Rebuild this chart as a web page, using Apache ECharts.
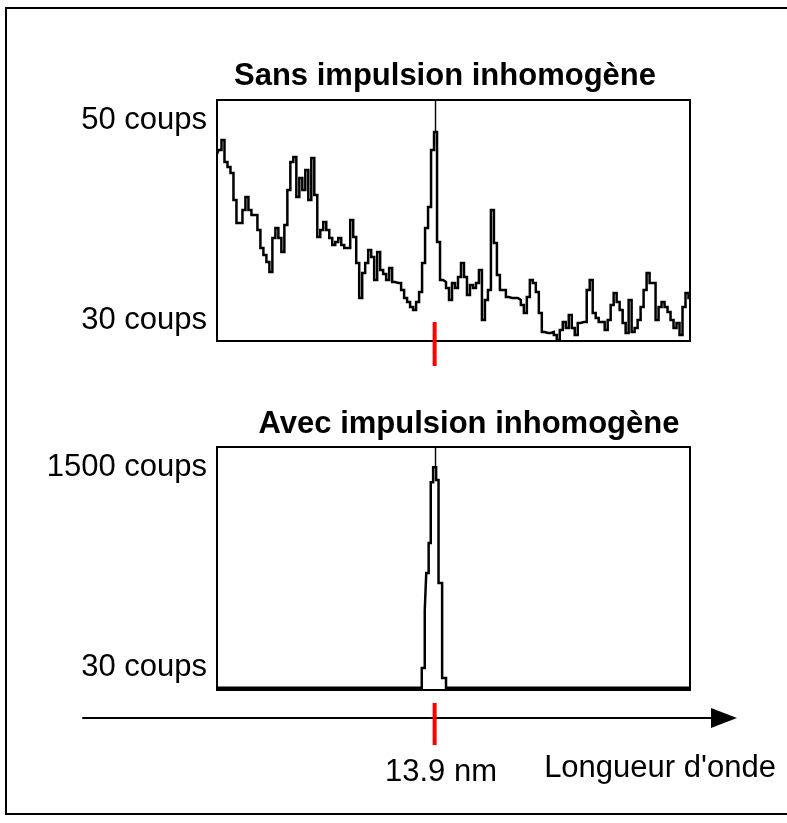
<!DOCTYPE html>
<html>
<head>
<meta charset="utf-8">
<script src="https://cdn.jsdelivr.net/npm/echarts@6/dist/echarts.min.js"></script>
<style>
  html, body { margin: 0; padding: 0; background: #fff; }
  #chart { width: 787px; height: 823px; }
</style>
</head>
<body>
<div id="chart"></div>
<script>
// Texts
const topTitle = 'Sans impulsion inhomogène';
const bottomTitle = 'Avec impulsion inhomogène';
const tickUnit = 'coups';
const topTicks = [30, 50];
const bottomTicks = [30, 1500];
const markerLabel = '13.9 nm';
const axisTitle = "Longueur d'onde";

// Detector channel of the 13.9 nm line and of the peak maximum
const markerChannel = 72.7;
const spikeChannel = 73;

// Spectrum without the inhomogeneous pulse: counts per channel (0..158)
const topCounts = [
  46.6, 47.0, 48.0, 45.8, 45.3, 44.7, 42.0, 39.7, 39.7, 41.0,
  42.3, 41.0, 40.5, 40.5, 39.0, 37.2, 36.5, 35.8, 34.8, 38.2,
  39.2, 38.2, 36.8, 39.5, 43.0, 45.8, 46.3, 42.3, 44.2, 43.0,
  45.0, 42.0, 46.2, 42.5, 38.3, 39.0, 39.8, 39.0, 38.2, 37.5,
  37.8, 38.2, 37.5, 37.2, 37.2, 40.0, 38.3, 35.7, 32.2, 34.7,
  35.7, 37.0, 36.3, 34.0, 36.8, 35.0, 34.6, 34.0, 35.2, 33.8,
  33.7, 33.7, 33.0, 32.2, 31.8, 31.3, 31.0, 31.8, 32.8, 35.7,
  39.2, 41.3, 47.0, 48.8, 37.8, 34.0, 33.8, 33.2, 32.0, 33.7,
  33.2, 34.3, 35.7, 34.3, 32.5, 33.5, 33.2, 33.7, 35.0, 30.0,
  32.0, 33.0, 41.0, 37.7, 34.5, 33.0, 33.0, 32.3, 32.2, 32.2,
  32.2, 32.0, 31.5, 30.7, 32.3, 34.0, 33.7, 32.8, 30.7, 28.8,
  28.7, 28.7, 28.8, 28.5, 28.0, 29.0, 29.8, 29.2, 30.5, 29.2,
  28.5, 29.7, 29.8, 29.8, 33.0, 34.0, 30.7, 30.2, 29.8, 29.8,
  29.0, 30.0, 31.5, 32.7, 31.8, 31.0, 29.7, 28.7, 32.0, 28.8,
  29.2, 30.0, 31.3, 33.0, 34.7, 33.7, 33.7, 30.0, 31.3, 31.8,
  31.3, 30.8, 30.0, 29.2, 29.7, 28.5, 31.3, 32.7, 32.2
];

// Spectrum with the inhomogeneous pulse: level changes (channel where a level starts, counts)
const peakChannels = [0, 68.4, 69.4, 69.9, 70.7, 71.4, 72.2, 73.2, 74.0, 75.2, 76.5, 158];
const peakCounts   = [30, 162, 548, 795, 995, 1400, 1500, 1415, 728, 95, 30, 30];

const FONT = '"Liberation Sans", Arial, Helvetica, sans-serif';
const topRange = [27.9, 52];
const bottomRange = [15, 1635];

const chart = echarts.init(document.getElementById('chart'), null, { renderer: 'canvas' });

const labelBase = { fontSize: 31, color: '#000', fontFamily: FONT };
const hiddenAxis = {
  axisLine: { show: false }, axisTick: { show: false },
  splitLine: { show: false }, axisLabel: { show: false }
};
const traceStyle = { color: '#000', width: 2.5, join: 'miter', cap: 'butt' };

function spikeLine(fromValue, toValue) {
  return {
    silent: true,
    symbol: 'none',
    label: { show: false },
    emphasis: { disabled: true },
    lineStyle: { color: '#000', width: 1.4, type: 'solid' },
    data: [[{ coord: [spikeChannel, fromValue] }, { coord: [spikeChannel, toValue] }]]
  };
}

chart.setOption({
  animation: false,
  backgroundColor: '#fff',
  grid: [
    { left: 217, top: 100, width: 473, height: 241, show: true, borderColor: '#000', borderWidth: 2, backgroundColor: 'transparent' },
    { left: 217, top: 447, width: 473, height: 243, show: true, borderColor: '#000', borderWidth: 2, backgroundColor: 'transparent' },
    { left: 83, top: 717, width: 641, height: 1 }
  ],
  xAxis: [
    Object.assign({ gridIndex: 0, type: 'value', min: 0, max: 158 }, hiddenAxis),
    Object.assign({ gridIndex: 1, type: 'value', min: 0, max: 158 }, hiddenAxis),
    {
      gridIndex: 2, type: 'value', min: 0, max: 1,
      axisLine: {
        show: true, onZero: false,
        symbol: ['none', 'triangle'], symbolSize: [20, 26],
        lineStyle: { color: '#000', width: 2 }
      },
      axisTick: { show: false }, axisLabel: { show: false }, splitLine: { show: false }
    }
  ],
  yAxis: [
    {
      gridIndex: 0, type: 'value', min: topRange[0], max: topRange[1],
      axisLine: { show: false }, axisTick: { show: false }, splitLine: { show: false },
      axisLabel: Object.assign({
        customValues: topTicks, margin: 10,
        formatter: (v) => v + ' ' + tickUnit
      }, labelBase)
    },
    {
      gridIndex: 1, type: 'value', min: bottomRange[0], max: bottomRange[1],
      axisLine: { show: false }, axisTick: { show: false }, splitLine: { show: false },
      axisLabel: Object.assign({
        customValues: bottomTicks, margin: 10,
        // the baseline label sits a little above its level
        formatter: (v) => (v === bottomTicks[0] ? '{lift|' : '{base|') + v + ' ' + tickUnit + '}',
        rich: {
          lift: Object.assign({ padding: [0, 0, 40, 0] }, labelBase),
          base: Object.assign({}, labelBase)
        }
      }, labelBase)
    },
    Object.assign({ gridIndex: 2, type: 'value', min: 0, max: 1 }, hiddenAxis)
  ],
  series: [
    {
      type: 'line', xAxisIndex: 0, yAxisIndex: 0,
      data: topCounts.map((v, i) => [i, v]),
      step: 'middle', symbol: 'none', clip: true,
      lineStyle: traceStyle,
      emphasis: { disabled: true },
      markLine: spikeLine(topCounts[spikeChannel], topRange[1])
    },
    {
      type: 'line', xAxisIndex: 1, yAxisIndex: 1,
      data: peakChannels.map((c, i) => [c, peakCounts[i]]),
      step: 'end', symbol: 'none', clip: true,
      lineStyle: traceStyle,
      emphasis: { disabled: true },
      markLine: spikeLine(1500, bottomRange[1])
    }
  ]
});

// Red wavelength marks, placed through the spectrum's channel scale
const xm = chart.convertToPixel({ xAxisIndex: 0 }, markerChannel);

chart.setOption({
  graphic: [
    {
      type: 'rect', z: -1, silent: true,
      shape: { x: 6, y: 8, width: 800, height: 806 },
      style: { fill: 'none', stroke: '#000', lineWidth: 2 }
    },
    {
      type: 'text', x: 445, y: 76, silent: true,
      style: { text: topTitle, font: 'bold 31px ' + FONT, fill: '#000', align: 'center', verticalAlign: 'middle' }
    },
    {
      type: 'text', x: 469, y: 424, silent: true,
      style: { text: bottomTitle, font: 'bold 31px ' + FONT, fill: '#000', align: 'center', verticalAlign: 'middle' }
    },
    {
      type: 'line', silent: true, z: 10,
      shape: { x1: xm, y1: 322, x2: xm, y2: 366 },
      style: { stroke: '#ff0000', lineWidth: 4 }
    },
    {
      type: 'line', silent: true, z: 10,
      shape: { x1: xm, y1: 703, x2: xm, y2: 745 },
      style: { stroke: '#ff0000', lineWidth: 4 }
    },
    {
      type: 'text', x: 441, y: 772, silent: true,
      style: { text: markerLabel, font: '31px ' + FONT, fill: '#000', align: 'center', verticalAlign: 'middle' }
    },
    {
      type: 'text', x: 660, y: 768, silent: true,
      style: { text: axisTitle, font: '31px ' + FONT, fill: '#000', align: 'center', verticalAlign: 'middle' }
    }
  ]
});
</script>
</body>
</html>
